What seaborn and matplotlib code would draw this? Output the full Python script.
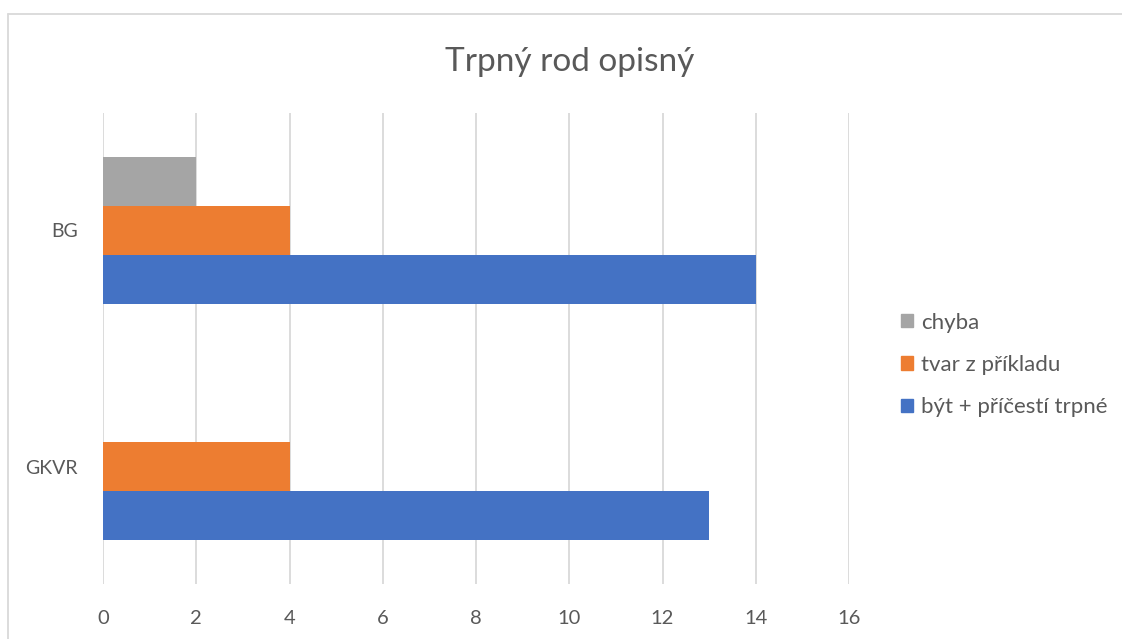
import pandas as pd
import matplotlib
matplotlib.use("Agg")
import matplotlib.pyplot as plt
import seaborn as sns
from matplotlib.lines import Line2D

sns.set_theme(style="white")
plt.rcParams['font.family'] = ['Lato', 'DejaVu Sans']

# data
kategorie = ['BG', 'GKVR']
typy = ['chyba', 'tvar z příkladu', 'být + příčestí trpné']
chyba = [2, 0]
tvar = [4, 4]
byt = [14, 13]
barvy = ['#A5A5A5', '#ED7D31', '#4472C4']
x_ticks = [0, 2, 4, 6, 8, 10, 12, 14, 16]

rows = []
for i, k in enumerate(kategorie):
    for t, vals in zip(typy, [chyba, tvar, byt]):
        rows.append({'kategorie': k, 'typ': t, 'pocet': vals[i]})
data = pd.DataFrame(rows)

text_color = '#595959'

fig = plt.figure(figsize=(11.22, 6.39), dpi=100)
ax = fig.add_axes([0.0918, 0.0861, 0.6649, 0.7371])

sns.barplot(data=data, y='kategorie', x='pocet', hue='typ', order=kategorie,
            hue_order=typy, palette=barvy, orient='h', width=0.62,
            saturation=1, linewidth=0, ax=ax, legend=False)

ax.set_xlim(0, 16)
ax.set_xticks(x_ticks)
ax.set_ylim(1.495, -0.495)
ax.xaxis.grid(True, color='#D9D9D9', linewidth=1.3)
ax.yaxis.grid(False)
ax.set_axisbelow(True)
for s in ax.spines.values():
    s.set_visible(False)
ax.tick_params(axis='x', length=0, pad=19, labelsize=14.5, labelcolor=text_color)
ax.tick_params(axis='y', length=0, pad=18, labelsize=14, labelcolor=text_color)
ax.set_xlabel('')
ax.set_ylabel('')

fig.suptitle('Trpný rod opisný', x=0.508, y=0.927, fontsize=24, color=text_color)

handles = [plt.Rectangle((0, 0), 1, 1, color=c) for c in barvy]
fig.legend(handles, typy, loc='center left', bbox_to_anchor=(0.803, 0.429),
           frameon=False, fontsize=16, handlelength=0.55, handleheight=0.55,
           handletextpad=0.35, labelspacing=1.0, labelcolor=text_color,
           borderpad=0, borderaxespad=0)

# light chart border (Excel chart area)
fig.add_artist(Line2D([0.0071, 0.0071], [0, 0.978], color='#D9D9D9', lw=1.3,
                      transform=fig.transFigure))
fig.add_artist(Line2D([0.0071, 1], [0.978, 0.978], color='#D9D9D9', lw=1.3,
                      transform=fig.transFigure))

fig.savefig('out.png', dpi=100)
